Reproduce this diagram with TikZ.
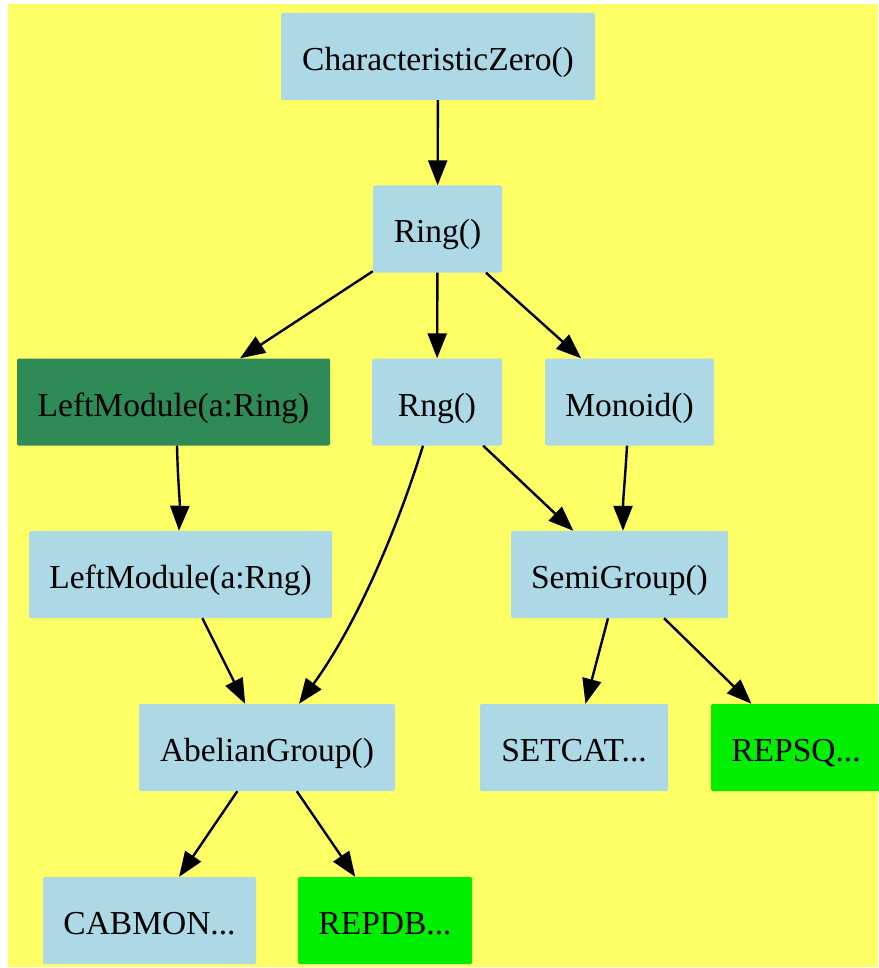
\documentclass[tikz,border=0pt]{standalone}
\usepackage{fontspec}
\setmainfont{Liberation Serif}
\usetikzlibrary{arrows.meta,calc}
\definecolor{bgyellow}{HTML}{FFFF66}
\definecolor{lblue}{HTML}{ADD8E6}
\definecolor{sgreen}{HTML}{2E8B57}
\definecolor{bgreen}{HTML}{00EE00}
\begin{document}
\begin{tikzpicture}[x=1pt,y=-1pt,
  box/.style={rectangle, rounded corners=1.5pt, inner sep=0pt, fill=lblue,
    minimum height=87pt, text height=28pt, text depth=0pt,
    font=\fontsize{33.5}{40}\selectfont},
  edge/.style={line width=2.4pt, -{Triangle[length=25pt,width=19pt]}}]
\useasboundingbox (0,0) rectangle (878,968);
\fill[bgyellow] (8,4) rectangle (878,967);
\node[box, minimum width=314pt] (cz) at (438,56.5) {CharacteristicZero()};
\node[box, minimum width=129pt] (ring) at (437.5,229) {Ring()};
\node[box, minimum width=313pt, fill=sgreen] (lmring) at (173.5,402) {LeftModule(a:Ring)};
\node[box, minimum width=130pt] (rng) at (437,402) {Rng()};
\node[box, minimum width=169pt] (monoid) at (629.5,402) {Monoid()};
\node[box, minimum width=303pt] (lmrng) at (180.5,574.5) {LeftModule(a:Rng)};
\node[box, minimum width=217pt] (semi) at (619.5,574.5) {SemiGroup()};
\node[box, minimum width=256pt] (abel) at (267,747.5) {AbelianGroup()};
\node[box, minimum width=188pt] (setcat) at (574,747.5) {SETCAT...};
\node[box, minimum width=170pt, fill=bgreen] (repsq) at (796,747.5) {REPSQ...};
\node[box, minimum width=213pt] (cabmon) at (149.5,920.5) {CABMON...};
\node[box, minimum width=174pt, fill=bgreen] (repdb) at (385,920.5) {REPDB...};
\draw[edge] (cz) -- (ring);
\draw[edge] (ring) -- (lmring);
\draw[edge] (ring) -- (rng);
\draw[edge] (ring) -- (monoid);
\draw[edge] ($(lmring.south)+(3.5,0)$) .. controls (178,485) and (180,500) .. ($(lmrng.north)+(-1.5,0)$);
\draw[edge] ($(rng.south)+(-14,0)$) .. controls (400,520) and (360,620) .. ($(abel.north)+(32,0)$);
\draw[edge] (rng) -- (semi);
\draw[edge] ($(monoid.south)+(-2.5,0)$) .. controls (625,480) and (623,500) .. ($(semi.north)+(3.5,0)$);
\draw[edge] (lmrng) -- (abel);
\draw[edge] (semi) -- (setcat);
\draw[edge] (semi) -- (repsq);
\draw[edge] (abel) -- (cabmon);
\draw[edge] (abel) -- (repdb);
\end{tikzpicture}
\end{document}
